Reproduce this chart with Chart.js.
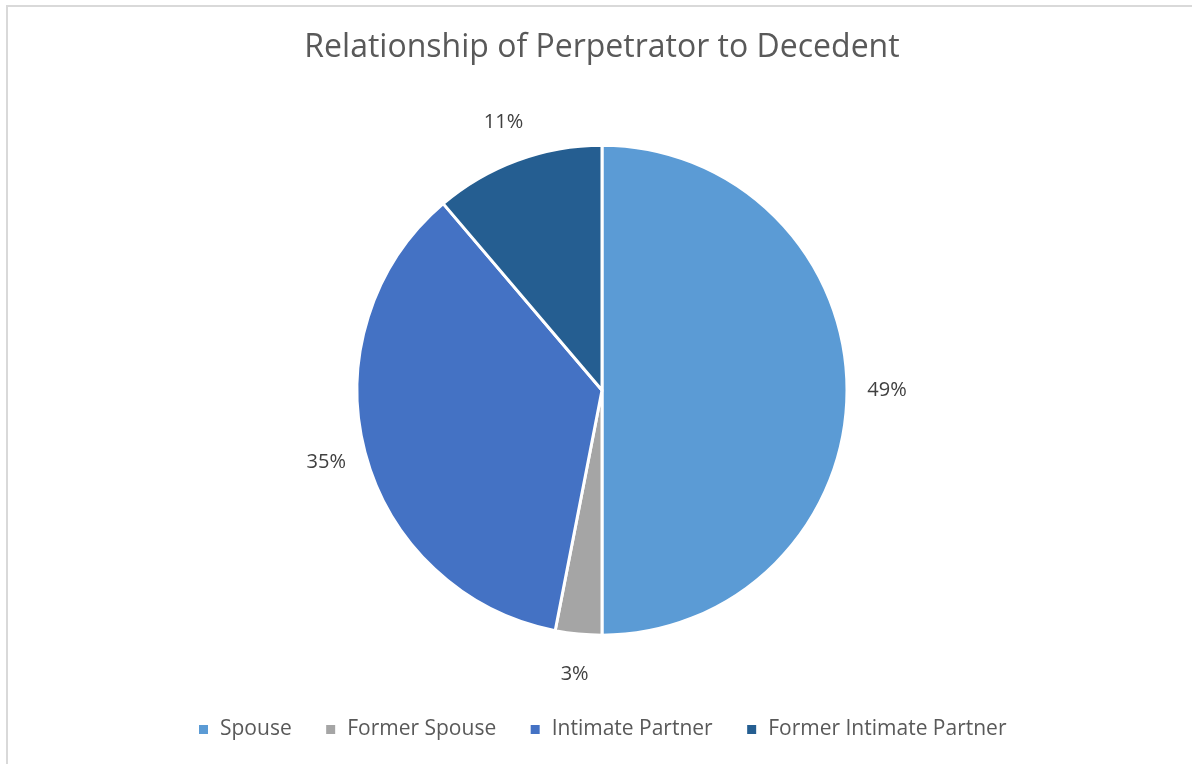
<!DOCTYPE html>
<html>
<head>
<meta charset="utf-8">
<script src="https://cdn.jsdelivr.net/npm/chart.js@4/dist/chart.umd.min.js"></script>
<style>
html, body { margin: 0; padding: 0; background: #ffffff; }
#wrap { position: absolute; left: 0; top: 0; width: 1192px; height: 764px; }
</style>
</head>
<body>
<div id="wrap"><canvas id="pieChart"></canvas></div>
<script>
const categories = ["Spouse", "Former Spouse", "Intimate Partner", "Former Intimate Partner"];
const shares = [49, 3, 35, 11];
const sliceColors = ["#5B9BD5", "#A5A5A5", "#4472C4", "#255E91"];

const FONT = "'Open Sans', sans-serif";

// grey frame, only the top and left edges are inside the picture
const framePlugin = {
  id: "frame",
  beforeDraw(chart) {
    const ctx = chart.ctx;
    ctx.save();
    ctx.fillStyle = "#ffffff";
    ctx.fillRect(0, 0, chart.width, chart.height);
    ctx.strokeStyle = "#d9d9d9";
    ctx.lineWidth = 2;
    ctx.beginPath();
    ctx.moveTo(7, chart.height);
    ctx.lineTo(7, 6);
    ctx.lineTo(chart.width, 6);
    ctx.stroke();
    ctx.restore();
  }
};

// percent labels outside each slice
const outsideLabels = {
  id: "outsideLabels",
  afterDatasetsDraw(chart) {
    const ctx = chart.ctx;
    const meta = chart.getDatasetMeta(0);
    ctx.save();
    ctx.font = "20px " + FONT;
    ctx.fillStyle = "#404040";
    ctx.textAlign = "center";
    ctx.textBaseline = "middle";
    meta.data.forEach(function (arc, i) {
      const p = arc.getProps(["x", "y", "startAngle", "endAngle", "outerRadius"], true);
      const mid = (p.startAngle + p.endAngle) / 2;
      const r = p.outerRadius + 40;
      ctx.fillText(shares[i] + "%", p.x + Math.cos(mid) * r, p.y + Math.sin(mid) * r);
    });
    ctx.restore();
  }
};

// move the legend up a little
const legendShift = {
  id: "legendShift",
  afterLayout(chart) {
    chart.legend.top -= 14;
    chart.legend.bottom -= 14;
  }
};

new Chart(document.getElementById("pieChart"), {
  type: "pie",
  data: {
    labels: categories,
    datasets: [{
      data: shares,
      backgroundColor: sliceColors,
      borderColor: "#ffffff",
      borderWidth: 3,
      radius: 245
    }]
  },
  options: {
    responsive: true,
    maintainAspectRatio: false,
    animation: false,
    layout: { padding: { left: 12 } },
    plugins: {
      title: {
        display: true,
        text: "Relationship of Perpetrator to Decedent",
        color: "#595959",
        font: { family: FONT, size: 32, weight: "normal", lineHeight: 1.2 },
        padding: { top: 29, bottom: 13 }
      },
      legend: {
        position: "bottom",
        labels: {
          color: "#595959",
          font: { family: FONT, size: 21 },
          boxWidth: 12,
          boxHeight: 12,
          padding: 33
        }
      },
      tooltip: { enabled: false }
    }
  },
  plugins: [framePlugin, outsideLabels, legendShift]
});
</script>
</body>
</html>
